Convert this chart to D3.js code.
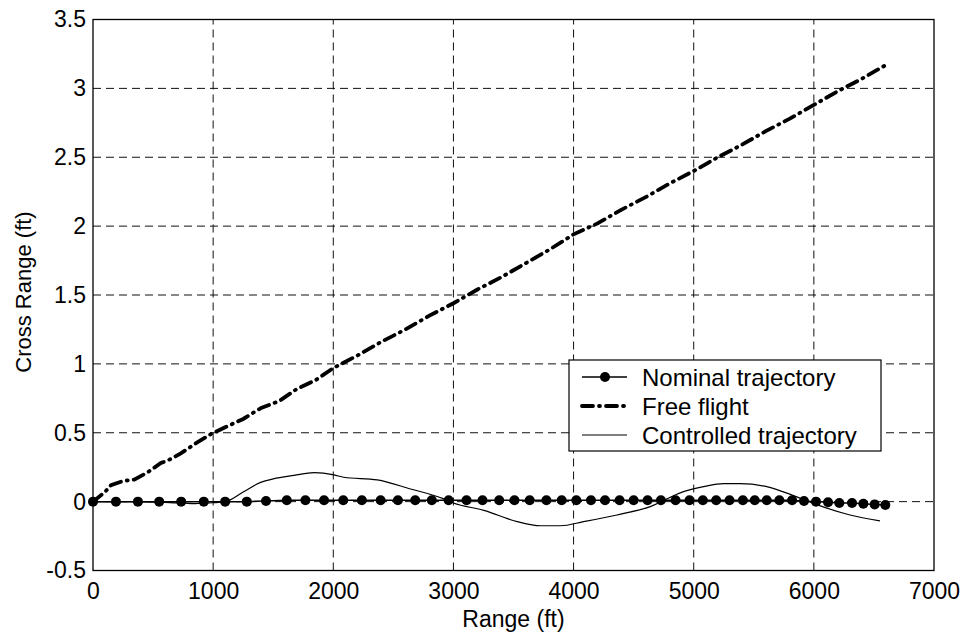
<!DOCTYPE html>
<html>
<head>
<meta charset="utf-8">
<script src="https://cdn.jsdelivr.net/npm/d3@7"></script>
<style>
  body { margin: 0; background: #fff; }
  svg text { font-family: "Liberation Sans", Arial, Helvetica, sans-serif; fill: #000; }
  .grid line { stroke: #111; stroke-dasharray: 8,5; stroke-width: 1; }
</style>
</head>
<body>
<div id="chart"></div>
<script>
// tick labels
const xTicks = [0, 1000, 2000, 3000, 4000, 5000, 6000, 7000];
const yTicks = [-0.5, 0, 0.5, 1, 1.5, 2, 2.5, 3, 3.5];

// Nominal trajectory (markers)
const nominalX = [0, 191, 374, 551, 734, 922, 1100, 1280, 1440, 1613, 1768, 1923, 2083, 2238,
  2394, 2538, 2682, 2820, 2960, 3109, 3242, 3381, 3508, 3635, 3774, 3901, 4023, 4145, 4262,
  4383, 4500, 4616, 4727, 4849, 4965, 5076, 5187, 5298, 5409, 5508, 5608, 5713, 5819, 5918,
  6018, 6118, 6212, 6318, 6412, 6506, 6595];
const nominalY = [0, 0, 0, 0, 0, 0, 0, 0, 0.005, 0.01, 0.01, 0.01, 0.01, 0.01,
  0.01, 0.01, 0.01, 0.01, 0.01, 0.01, 0.01, 0.01, 0.01, 0.01, 0.01, 0.01, 0.01, 0.01, 0.01,
  0.01, 0.01, 0.01, 0.01, 0.01, 0.01, 0.01, 0.01, 0.01, 0.01, 0.01, 0.01, 0.01, 0.01, 0.005,
  0, -0.005, -0.01, -0.01, -0.015, -0.02, -0.025];

// Free flight
const freeX = [0, 100, 150, 250, 343, 450, 565, 650, 731, 850, 981, 1100, 1250, 1400, 1550,
  1700, 1850, 2000, 2200, 2400, 2600, 2800, 3000, 3200, 3400, 3600, 3800, 4000, 4200, 4400,
  4600, 4800, 5000, 5200, 5400, 5600, 5800, 6000, 6200, 6400, 6600];
const freeY = [0, 0.07, 0.12, 0.15, 0.16, 0.21, 0.28, 0.31, 0.35, 0.42, 0.49, 0.54, 0.60, 0.68, 0.73,
  0.82, 0.88, 0.97, 1.06, 1.16, 1.25, 1.35, 1.44, 1.54, 1.63, 1.73, 1.83, 1.94, 2.02, 2.12,
  2.21, 2.31, 2.40, 2.50, 2.59, 2.69, 2.78, 2.88, 2.98, 3.07, 3.17];

// Controlled trajectory
const ctrlX = [0, 300, 600, 850, 950, 1100, 1250, 1396, 1500, 1673, 1840, 2006, 2087, 2366,
  2643, 2920, 3000, 3253, 3530, 3724, 3890, 4084, 4361, 4638, 4915, 5082, 5248, 5386, 5608,
  5830, 6024, 6301, 6550];
const ctrlY = [0, 0, -0.005, -0.015, -0.01, 0, 0.07, 0.14, 0.165, 0.19, 0.21, 0.194, 0.177, 0.158,
  0.092, 0.02, -0.01, -0.063, -0.145, -0.175, -0.175, -0.145, -0.097, -0.036, 0.073, 0.109, 0.131, 0.131, 0.109,
  0.044, -0.022, -0.097, -0.14];

const legendLabels = ["Nominal trajectory", "Free flight", "Controlled trajectory"];

const width = 965, height = 638;
const margin = { left: 93, right: 31, top: 19.5, bottom: 67.5 };

const svg = d3.select("#chart").append("svg")
  .attr("width", width)
  .attr("height", height);

const x = d3.scaleLinear().domain([0, 7000]).range([margin.left, width - margin.right]);
const y = d3.scaleLinear().domain([-0.5, 3.5]).range([height - margin.bottom, margin.top]);

// grid
const grid = svg.append("g").attr("class", "grid");
grid.selectAll(".gx").data(xTicks.slice(1, -1)).enter().append("line")
  .attr("x1", (d) => x(d)).attr("x2", (d) => x(d))
  .attr("y1", y(-0.5)).attr("y2", y(3.5));
grid.selectAll(".gy").data(yTicks.slice(1, -1)).enter().append("line")
  .attr("x1", x(0)).attr("x2", x(7000))
  .attr("y1", (d) => y(d)).attr("y2", (d) => y(d));

// axes
const xAxis = svg.append("g")
  .attr("transform", `translate(0,${y(-0.5)})`)
  .call(d3.axisBottom(x).tickValues(xTicks).tickSize(0).tickPadding(12).tickFormat(d3.format("d")));
const yAxis = svg.append("g")
  .attr("transform", `translate(${x(0)},0)`)
  .call(d3.axisLeft(y).tickValues(yTicks).tickSize(0).tickPadding(7).tickFormat((d) => String(d)));
[xAxis, yAxis].forEach((a) => {
  a.select(".domain").remove();
  a.selectAll("text").style("font-size", "23px");
});

// frame
svg.append("rect")
  .attr("x", x(0)).attr("y", y(3.5))
  .attr("width", x(7000) - x(0)).attr("height", y(-0.5) - y(3.5))
  .attr("fill", "none").attr("stroke", "#000").attr("stroke-width", 1.3);

const line = d3.line().x((d) => x(d[0])).y((d) => y(d[1]));

// free flight
svg.append("path")
  .datum(d3.zip(freeX, freeY))
  .attr("d", line)
  .attr("fill", "none").attr("stroke", "#000")
  .attr("stroke-width", 3.8)
  .attr("stroke-linecap", "round")
  .attr("stroke-dasharray", "11,6,1,6");

// controlled
svg.append("path")
  .datum(d3.zip(ctrlX, ctrlY))
  .attr("d", line.curve(d3.curveMonotoneX))
  .attr("fill", "none").attr("stroke", "#000").attr("stroke-width", 1.2);

// nominal
const nominal = d3.zip(nominalX, nominalY);
svg.append("path")
  .datum(nominal)
  .attr("d", d3.line().x((d) => x(d[0])).y((d) => y(d[1])))
  .attr("fill", "none").attr("stroke", "#000").attr("stroke-width", 1.5);
svg.selectAll(".dot").data(nominal).enter().append("circle")
  .attr("cx", (d) => x(d[0])).attr("cy", (d) => y(d[1]))
  .attr("r", 5).attr("fill", "#000");

// axis titles
svg.append("text")
  .attr("x", (x(0) + x(7000)) / 2).attr("y", 627)
  .attr("text-anchor", "middle").style("font-size", "23px")
  .text("Range (ft)");
svg.append("text")
  .attr("transform", `translate(31,${(y(-0.5) + y(3.5)) / 2 - 3}) rotate(-90)`)
  .attr("text-anchor", "middle").style("font-size", "22px")
  .text("Cross Range (ft)");

// legend
const legend = svg.append("g").attr("transform", "translate(569,360)");
legend.append("rect")
  .attr("width", 312).attr("height", 91)
  .attr("fill", "#fff").attr("stroke", "#000").attr("stroke-width", 1.2);
const rows = legend.selectAll(".row").data(legendLabels).enter().append("g")
  .attr("transform", (d, i) => `translate(0,${17 + i * 29})`);
rows.append("text")
  .attr("x", 73).attr("y", 9)
  .style("font-size", "24px")
  .text((d) => d);
rows.each(function (d, i) {
  const g = d3.select(this);
  const seg = g.append("line").attr("x1", 13).attr("x2", 58).attr("y1", 0).attr("y2", 0)
    .attr("stroke", "#000");
  if (i === 0) {
    seg.attr("stroke-width", 1.5);
    g.append("circle").attr("cx", 36).attr("cy", 0).attr("r", 5).attr("fill", "#000");
  } else if (i === 1) {
    seg.attr("stroke-width", 3.8).attr("stroke-linecap", "round").attr("stroke-dasharray", "11,6,1,6");
  } else {
    seg.attr("stroke-width", 1.2);
  }
});
</script>
</body>
</html>
